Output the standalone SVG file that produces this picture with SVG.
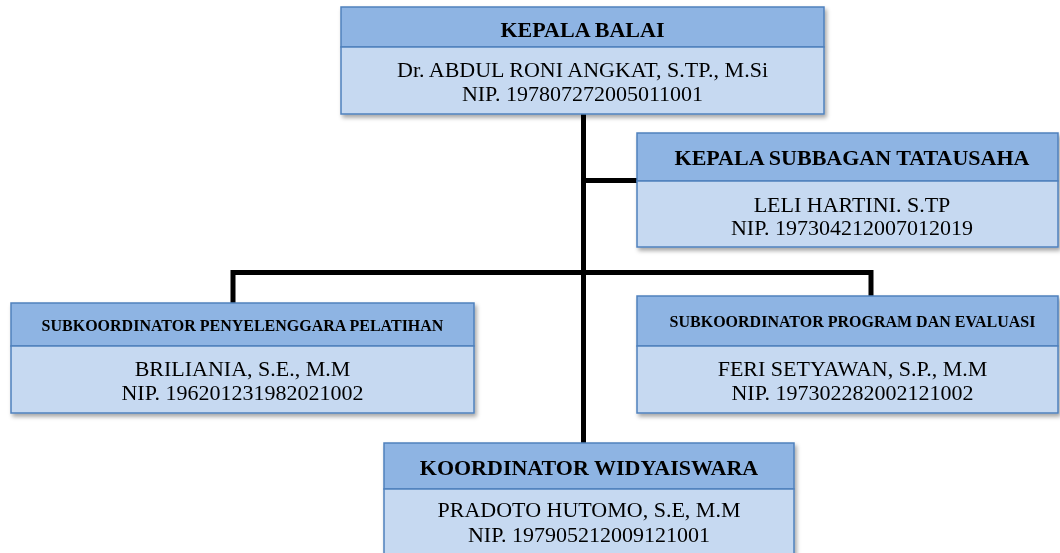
<svg xmlns="http://www.w3.org/2000/svg" width="1060" height="553" viewBox="0 0 1060 553">
<defs>
<filter id="sh" x="-5%" y="-10%" width="115%" height="130%">
<feDropShadow dx="2" dy="3" stdDeviation="2" flood-color="#000" flood-opacity="0.35"/>
</filter>
<style>
.hd{fill:#8EB4E3;stroke:#4F81BD;stroke-width:1.5}
.bd{fill:#C6D9F1;stroke:#4F81BD;stroke-width:1.5}
.t{font-family:"Liberation Serif","Times New Roman",serif;font-size:22px;font-weight:bold;fill:#000;text-anchor:middle}
.ts{font-family:"Liberation Serif","Times New Roman",serif;font-size:16px;font-weight:bold;fill:#000;text-anchor:middle}
.b{font-family:"Liberation Serif","Times New Roman",serif;font-size:22px;fill:#000;text-anchor:middle}
.c{fill:none;stroke:#000;stroke-width:5;stroke-linejoin:miter;stroke-linecap:butt}
</style>
</defs>
<rect width="1060" height="553" fill="#fff"/>
<g id="connectors">
<path class="c" d="M583.5 114 V443"/>
<path class="c" d="M583.5 180.5 H637"/>
<path class="c" d="M233 303 V272.5 H871 V296"/>
</g>
<g id="kepala-balai" filter="url(#sh)">
<rect class="hd" x="341" y="7" width="483" height="40"/>
<rect class="bd" x="341" y="47" width="483" height="67"/>
<text class="t" x="582.5" y="37">KEPALA BALAI</text>
<text class="b" x="582.5" y="77">Dr. ABDUL RONI ANGKAT, S.TP., M.Si</text>
<text class="b" x="582.5" y="101">NIP. 197807272005011001</text>
</g>
<g id="kepala-subbagan" filter="url(#sh)">
<rect class="hd" x="637" y="133" width="421" height="48"/>
<rect class="bd" x="637" y="181" width="421" height="66"/>
<text class="t" x="852" y="165">KEPALA SUBBAGAN TATAUSAHA</text>
<text class="b" x="852" y="212">LELI HARTINI. S.TP</text>
<text class="b" x="852" y="235">NIP. 197304212007012019</text>
</g>
<g id="sub-pelatihan" filter="url(#sh)">
<rect class="hd" x="11" y="303" width="463" height="43"/>
<rect class="bd" x="11" y="346" width="463" height="67"/>
<text class="ts" x="242.5" y="331">SUBKOORDINATOR PENYELENGGARA PELATIHAN</text>
<text class="b" x="242.5" y="376">BRILIANIA, S.E., M.M</text>
<text class="b" x="242.5" y="400">NIP. 196201231982021002</text>
</g>
<g id="sub-program" filter="url(#sh)">
<rect class="hd" x="637" y="296" width="421" height="50"/>
<rect class="bd" x="637" y="346" width="421" height="67"/>
<text class="ts" x="852.5" y="327">SUBKOORDINATOR PROGRAM DAN EVALUASI</text>
<text class="b" x="852.5" y="376">FERI SETYAWAN, S.P., M.M</text>
<text class="b" x="852.5" y="400">NIP. 197302282002121002</text>
</g>
<g id="koordinator-widyaiswara" filter="url(#sh)">
<rect class="hd" x="384" y="443" width="410" height="46"/>
<rect class="bd" x="384" y="489" width="410" height="80"/>
<text class="t" x="589" y="475">KOORDINATOR WIDYAISWARA</text>
<text class="b" x="589" y="517">PRADOTO HUTOMO, S.E, M.M</text>
<text class="b" x="589" y="542">NIP. 197905212009121001</text>
</g>
</svg>
